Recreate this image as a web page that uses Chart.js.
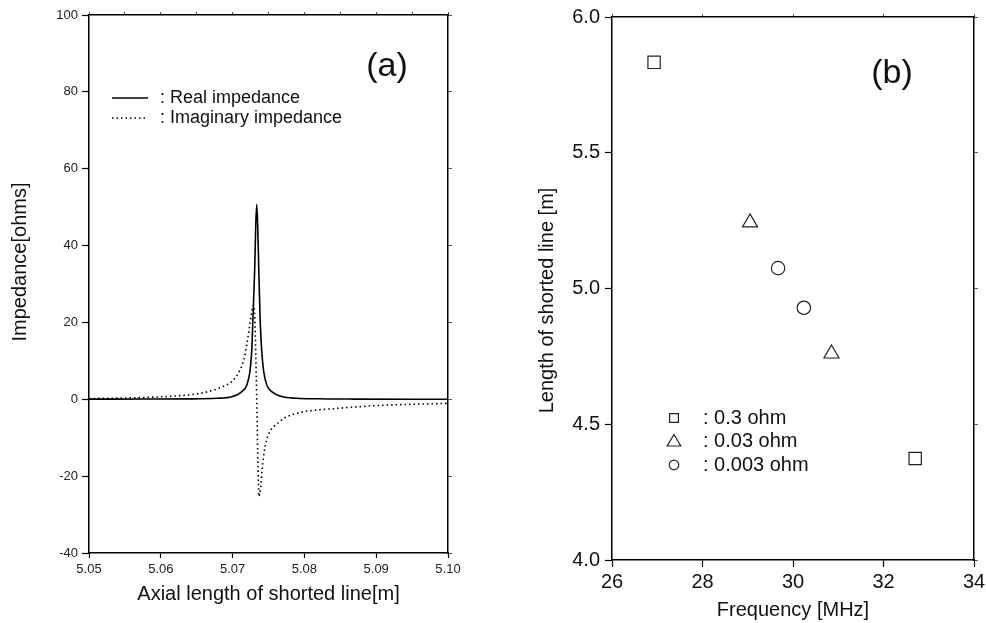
<!DOCTYPE html>
<html lang="en">
<head>
<meta charset="UTF-8" />
<title>Shorted line impedance</title>
<script src="https://cdn.jsdelivr.net/npm/chart.js"></script>
<style>
    body { margin: 0; background: #fff; }
    .wrap { position: relative; width: 986px; height: 623px; }
    .wrap canvas { position: absolute; top: 0; }
    #chartA { left: 0; }
    #chartB { left: 493px; }
</style>
</head>
<body>
<div class="wrap">
    <canvas id="chartA" width="493" height="623"></canvas>
    <canvas id="chartB" width="493" height="623"></canvas>
</div>

<script>
    // (a) impedance along the shorted line
    const realX = [5.0500, 5.0580, 5.0640, 5.0678, 5.0699, 5.0713, 5.0720, 5.0724, 5.07266, 5.07287, 5.07308, 5.07322, 5.07336,
        5.0735, 5.07364, 5.07385, 5.07406, 5.07434, 5.07475, 5.07545, 5.07684, 5.07893, 5.0817, 5.0870, 5.1000];
    const realY = [0.03, 0.06, 0.1, 0.26, 0.65, 2.0, 3.8, 7.1, 12.5, 23, 34, 45, 50.7,
        45, 34, 20, 12.5, 7.1, 3.8, 2.0, 0.7, 0.26, 0.12, 0.05, 0.02];

    const imagX = [5.0500, 5.0540, 5.0580, 5.0620, 5.0650, 5.0670, 5.0685, 5.0700, 5.0710, 5.0716, 5.0720, 5.0724, 5.0727,
        5.07295, 5.0731, 5.0732, 5.07336, 5.0735, 5.0736, 5.07366, 5.0739, 5.0741, 5.0743, 5.0747, 5.0752, 5.0758,
        5.0765, 5.0771, 5.0785, 5.0800, 5.0820, 5.0840, 5.0870, 5.0910, 5.0950, 5.1000];
    const imagY = [0.2, 0.3, 0.5, 0.85, 1.4, 2.2, 3.2, 4.8, 7.5, 10.5, 14.5, 19.5, 23,
        24.5, 21, 14, 0, -14, -22, -25.3, -23, -18.5, -15, -10.8, -8.4, -7.0,
        -5.9, -5.0, -3.9, -3.2, -2.75, -2.45, -2.0, -1.55, -1.3, -1.05];

    // (b) length of shorted line vs frequency, per resistance
    const freq03 = [26.93, 32.70];
    const len03 = [5.833, 4.374];
    const freq003 = [29.05, 30.85];
    const len003 = [5.243, 4.76];
    const freq0003 = [29.67, 30.24];
    const len0003 = [5.075, 4.929];
    const ohmLabels = [": 0.3 ohm", ": 0.03 ohm", ": 0.003 ohm"];

    const FONT = "Arial, 'Liberation Sans', Helvetica, sans-serif";

    function toPoints(xs, ys) {
        return xs.map((x, i) => ({ x: x, y: ys[i] }));
    }

    // fixed axis sizes so both plot frames land where the figure has them
    const fixWidth = w => s => { s.width = w; };
    const fixHeight = h => s => { s.height = h; s.paddingLeft = 0; s.paddingRight = 0; };

    function frameAxis(pos, min, max, step, len) {
        return {
            type: "linear", position: pos, min: min, max: max,
            afterFit: pos === "top" ? fixHeight(0) : fixWidth(0),
            ticks: { display: false, stepSize: step },
            grid: { drawOnChartArea: false, tickLength: len, tickColor: "#555", tickWidth: 1 },
            border: { color: "#000", width: 1.5 }
        };
    }

    // rotated y-axis title, drawn where the figure has it
    function yTitlePlugin(text, dx, dy) {
        return {
            id: "yTitle",
            afterDraw(chart) {
                const { ctx, chartArea: a } = chart;
                ctx.save();
                ctx.translate(a.left + dx, (a.top + a.bottom) / 2 + dy);
                ctx.rotate(-Math.PI / 2);
                ctx.font = "20px " + FONT;
                ctx.fillStyle = "#111";
                ctx.textAlign = "center";
                ctx.textBaseline = "middle";
                ctx.fillText(text, 0, 0);
                ctx.restore();
            }
        };
    }

    // legend and panel label for (a)
    const decorA = {
        id: "decorA",
        afterDraw(chart) {
            const { ctx, chartArea: a } = chart;
            ctx.save();
            ctx.strokeStyle = "#000";
            ctx.lineWidth = 1.6;
            ctx.beginPath();
            ctx.moveTo(a.left + 23, a.top + 83);
            ctx.lineTo(a.left + 59, a.top + 83);
            ctx.stroke();
            ctx.setLineDash([1.5, 3]);
            ctx.beginPath();
            ctx.moveTo(a.left + 23, a.top + 103);
            ctx.lineTo(a.left + 59, a.top + 103);
            ctx.stroke();
            ctx.setLineDash([]);

            ctx.fillStyle = "#111";
            ctx.textBaseline = "middle";
            ctx.font = "18px " + FONT;
            ctx.fillText(": Real impedance", a.left + 71, a.top + 83);
            ctx.fillText(": Imaginary impedance", a.left + 71, a.top + 103);

            ctx.font = "34px " + FONT;
            ctx.textAlign = "center";
            ctx.fillText("(a)", a.left + 298, a.top + 52);
            ctx.restore();
        }
    };

    // legend and panel label for (b)
    const decorB = {
        id: "decorB",
        afterDraw(chart) {
            const { ctx, chartArea: a } = chart;
            const mx = a.left + 62;
            const rows = [a.top + 401, a.top + 424, a.top + 448];
            ctx.save();
            ctx.strokeStyle = "#222";
            ctx.fillStyle = "#fff";
            ctx.lineWidth = 1.2;
            // square
            ctx.beginPath();
            ctx.rect(mx - 4.4, rows[0] - 4.4, 8.8, 8.8);
            ctx.fill(); ctx.stroke();
            // triangle
            ctx.beginPath();
            ctx.moveTo(mx, rows[1] - 6.5);
            ctx.lineTo(mx + 6.8, rows[1] + 5);
            ctx.lineTo(mx - 6.8, rows[1] + 5);
            ctx.closePath();
            ctx.fill(); ctx.stroke();
            // circle
            ctx.beginPath();
            ctx.arc(mx, rows[2], 4.8, 0, Math.PI * 2);
            ctx.fill(); ctx.stroke();

            ctx.fillStyle = "#111";
            ctx.textBaseline = "middle";
            ctx.font = "20px " + FONT;
            ohmLabels.forEach((t, i) => ctx.fillText(t, a.left + 91, rows[i]));

            ctx.font = "34px " + FONT;
            ctx.textAlign = "center";
            ctx.fillText("(b)", a.right - 82, a.top + 57);
            ctx.restore();
        }
    };

    new Chart(document.getElementById("chartA"), {
        type: "scatter",
        data: {
            datasets: [
                {
                    label: "Real impedance",
                    data: toPoints(realX, realY),
                    showLine: true,
                    borderColor: "#000",
                    borderWidth: 1.6,
                    pointRadius: 0,
                    cubicInterpolationMode: "monotone"
                },
                {
                    label: "Imaginary impedance",
                    data: toPoints(imagX, imagY),
                    showLine: true,
                    borderColor: "#000",
                    borderWidth: 1.6,
                    borderDash: [1.5, 3],
                    pointRadius: 0,
                    cubicInterpolationMode: "monotone"
                }
            ]
        },
        options: {
            responsive: false,
            animation: false,
            layout: { padding: { top: 15, right: 45, left: 0, bottom: 0 } },
            plugins: { legend: { display: false }, tooltip: { enabled: false } },
            scales: {
                x: {
                    type: "linear", position: "bottom", min: 5.05, max: 5.10,
                    afterFit: fixHeight(70),
                    ticks: {
                        stepSize: 0.01, padding: 4, color: "#222", maxRotation: 0, autoSkip: false,
                        font: { family: FONT, size: 13 },
                        callback: v => v.toFixed(2)
                    },
                    grid: { drawOnChartArea: false, tickLength: 5, tickColor: "#000", tickWidth: 1.2 },
                    border: { color: "#000", width: 1.5 },
                    title: {
                        display: true, text: "Axial length of shorted line[m]", color: "#111",
                        font: { family: FONT, size: 20 }, padding: { top: 0, bottom: 17 }
                    }
                },
                x2: frameAxis("top", 5.05, 5.10, 0.005, 3),
                y: {
                    type: "linear", position: "left", min: -40, max: 100,
                    afterFit: fixWidth(89),
                    ticks: {
                        stepSize: 20, padding: 4, color: "#222",
                        font: { family: FONT, size: 13 }
                    },
                    grid: { drawOnChartArea: false, tickLength: 7, tickColor: "#000", tickWidth: 1.2 },
                    border: { color: "#000", width: 1.5 }
                },
                y2: frameAxis("right", -40, 100, 20, 4)
            }
        },
        plugins: [decorA, yTitlePlugin("Impedance[ohms]", -69, -22)]
    });

    const markerStyle = {
        showLine: false,
        backgroundColor: "rgba(255,255,255,0)",
        borderColor: "#222",
        borderWidth: 1.2
    };

    new Chart(document.getElementById("chartB"), {
        type: "scatter",
        data: {
            datasets: [
                Object.assign({ label: "0.3 ohm", data: toPoints(freq03, len03), pointStyle: "rect", pointRadius: 8.7 }, markerStyle),
                Object.assign({ label: "0.03 ohm", data: toPoints(freq003, len003), pointStyle: "triangle", pointRadius: 8.7 }, markerStyle),
                Object.assign({ label: "0.003 ohm", data: toPoints(freq0003, len0003), pointStyle: "circle", pointRadius: 6.7 }, markerStyle)
            ]
        },
        options: {
            responsive: false,
            animation: false,
            layout: { padding: { top: 16, right: 12, left: 0, bottom: 0 } },
            plugins: { legend: { display: false }, tooltip: { enabled: false } },
            scales: {
                x: {
                    type: "linear", position: "bottom", min: 26, max: 34,
                    afterFit: fixHeight(63),
                    ticks: {
                        stepSize: 2, padding: 3, color: "#111", maxRotation: 0, autoSkip: false,
                        font: { family: FONT, size: 20 }
                    },
                    grid: { drawOnChartArea: false, tickLength: 7, tickColor: "#000", tickWidth: 1.2 },
                    border: { color: "#000", width: 1.5 },
                    title: {
                        display: true, text: "Frequency [MHz]", color: "#111",
                        font: { family: FONT, size: 20 }, padding: { top: 0, bottom: 1 }
                    }
                },
                x2: frameAxis("top", 26, 34, 2, 3),
                y: {
                    type: "linear", position: "left", min: 4, max: 6,
                    afterFit: fixWidth(119),
                    ticks: {
                        stepSize: 0.5, padding: 5, color: "#111",
                        font: { family: FONT, size: 20 },
                        callback: v => v.toFixed(1)
                    },
                    grid: { drawOnChartArea: false, tickLength: 7, tickColor: "#000", tickWidth: 1.2 },
                    border: { color: "#000", width: 1.5 }
                },
                y2: frameAxis("right", 4, 6, 0.5, 4)
            }
        },
        plugins: [decorB, yTitlePlugin("Length of shorted line [m]", -65, 12)]
    });
</script>
</body>
</html>
